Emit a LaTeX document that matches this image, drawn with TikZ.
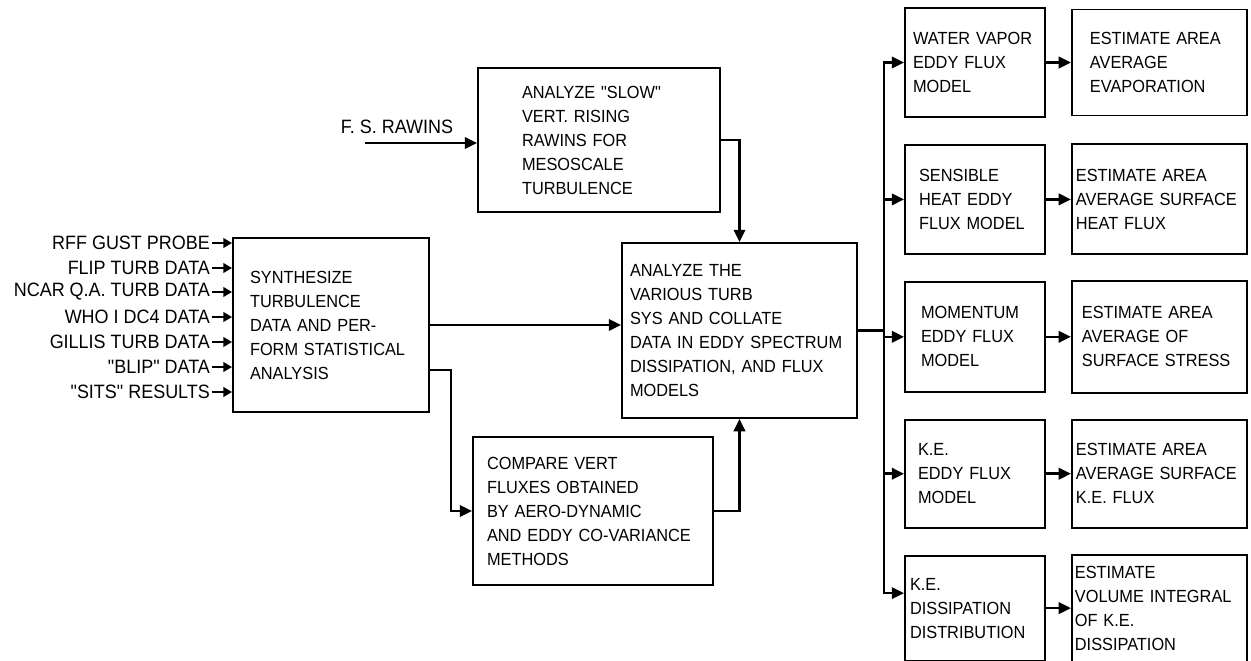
\documentclass[tikz,border=0pt]{standalone}
\usepackage{fontspec}
\usepackage{tikz}
\usetikzlibrary{arrows.meta, positioning}
\newfontfamily\chartfont[FakeStretch=0.93]{Liberation Sans}

\begin{document}
\begin{tikzpicture}[
  x=0.02cm, y=-0.02cm,
  block/.style={
    rectangle, draw, line width=1.1pt,
    inner sep=0pt, align=left,
    font=\chartfont\fontsize{10}{13.66}\selectfont
  },
  lbl/.style={font=\chartfont\fontsize{11}{13.66}\selectfont, inner sep=1pt},
  flow/.style={-{Triangle[length=7pt, width=6.5pt]}, line width=1.5pt},
  feed/.style={-{Triangle[length=5pt, width=5.5pt]}, line width=1.2pt},
  bus/.style={line width=1.5pt}
]
  \useasboundingbox (0,0) rectangle (1251,660);

  % central chain
  \node[block, minimum width=4.84cm, minimum height=2.88cm, text width=3.08cm] (slow) at (599,140)
    {ANALYZE "SLOW"\\VERT. RISING\\RAWINS FOR\\MESOSCALE\\TURBULENCE};
  \node[block, minimum width=3.92cm, minimum height=3.48cm, text width=3.24cm] (synth) at (331,325)
    {SYNTHESIZE\\TURBULENCE\\DATA AND PER-\\FORM STATISTICAL\\ANALYSIS};
  \node[block, minimum width=4.7cm, minimum height=3.5cm, text width=4.38cm] (main) at (739.5,330.5)
    {ANALYZE THE\\VARIOUS TURB\\SYS AND COLLATE\\DATA IN EDDY SPECTRUM\\DISSIPATION, AND FLUX\\MODELS};
  \node[block, minimum width=4.8cm, minimum height=2.96cm, text width=4.24cm] (compare) at (593,511)
    {COMPARE VERT\\FLUXES OBTAINED\\BY AERO-DYNAMIC\\AND EDDY CO-VARIANCE\\METHODS};

  % input data sets
  \node[lbl, anchor=east] (rff)    at (212,243) {RFF GUST PROBE};
  \node[lbl, anchor=east] (flip)   at (212,268) {FLIP TURB DATA};
  \node[lbl, anchor=east] (ncar)   at (212,292) {NCAR Q.A. TURB DATA};
  \node[lbl, anchor=east] (who)    at (212,317) {WHO I DC4 DATA};
  \node[lbl, anchor=east] (gillis) at (212,342) {GILLIS TURB DATA};
  \node[lbl, anchor=east] (blip)   at (212,367) {"BLIP" DATA};
  \node[lbl, anchor=east] (sits)   at (212,392) {"SITS" RESULTS};

  \draw[feed] (rff)    -- (rff -| synth.west);
  \draw[feed] (flip)   -- (flip -| synth.west);
  \draw[feed] (ncar)   -- (ncar -| synth.west);
  \draw[feed] (who)    -- (who -| synth.west);
  \draw[feed] (gillis) -- (gillis -| synth.west);
  \draw[feed] (blip)   -- (blip -| synth.west);
  \draw[feed] (sits)   -- (sits -| synth.west);

  \node[lbl] (fsr) at (397,127) {F. S. RAWINS};
  \coordinate (fsrin) at (365,143);
  \draw[flow] (fsrin) -- (fsrin -| slow.west);

  % flux models
  \node[block, minimum width=2.8cm, minimum height=2.18cm, text width=2.48cm] (water) at (975,62.5)
    {WATER VAPOR\\EDDY FLUX\\MODEL};
  \node[block, minimum width=2.8cm, minimum height=2.18cm, text width=2.24cm, below=0.52cm of water] (sens)
    {SENSIBLE\\HEAT EDDY\\FLUX MODEL};
  \node[block, minimum width=2.8cm, minimum height=2.2cm, text width=2.16cm, below=0.52cm of sens] (mom)
    {MOMENTUM\\EDDY FLUX\\MODEL};
  \node[block, minimum width=2.8cm, minimum height=2.16cm, text width=2.28cm, below=0.52cm of mom] (ke)
    {K.E.\\EDDY FLUX\\MODEL};
  \node[block, minimum width=2.8cm, minimum height=2.1cm, text width=2.6cm, below=0.52cm of ke] (diss)
    {K.E.\\DISSIPATION\\DISTRIBUTION};

  % estimates
  \node[block, minimum width=3.5cm, minimum height=2.12cm, text width=2.78cm, right=0.5cm of water] (evap)
    {ESTIMATE AREA\\AVERAGE\\EVAPORATION};
  \node[block, minimum width=3.5cm, minimum height=2.2cm, text width=3.34cm, right=0.5cm of sens] (heat)
    {ESTIMATE AREA\\AVERAGE SURFACE\\HEAT FLUX};
  \node[block, minimum width=3.5cm, minimum height=2.24cm, text width=3.1cm, right=0.5cm of mom] (stress)
    {ESTIMATE AREA\\AVERAGE OF\\SURFACE STRESS};
  \node[block, minimum width=3.5cm, minimum height=2.16cm, text width=3.34cm, right=0.5cm of ke] (keflux)
    {ESTIMATE AREA\\AVERAGE SURFACE\\K.E. FLUX};
  \node[block, minimum width=3.5cm, minimum height=2.14cm, text width=3.38cm, right=0.5cm of diss] (volume)
    {ESTIMATE\\VOLUME INTEGRAL\\OF K.E.\\DISSIPATION};

  % connectors
  \draw[flow] (synth) -- (synth -| main.west);
  \draw[flow] ([yshift=-0.9cm]synth.east) -- ++(21,0) |- (compare.west);
  \draw[flow] (compare.east) -| (main.south);
  \draw[flow] (slow.east) -| (main.north);

  \draw[bus] (main.east) -- ++(26,0) coordinate (split);
  \draw[flow] (split) |- (water.west);
  \draw[flow] (split) |- (sens.west);
  \draw[flow] (split) |- (mom.west);
  \draw[flow] (split) |- (ke.west);
  \draw[flow] (split) |- ([yshift=0.3cm]diss.west);

  \draw[flow] (water) -- (evap);
  \draw[flow] (sens)  -- (heat);
  \draw[flow] (mom)   -- (stress);
  \draw[flow] (ke)    -- (keflux);
  \draw[flow] (diss)  -- (volume);
\end{tikzpicture}
\end{document}
